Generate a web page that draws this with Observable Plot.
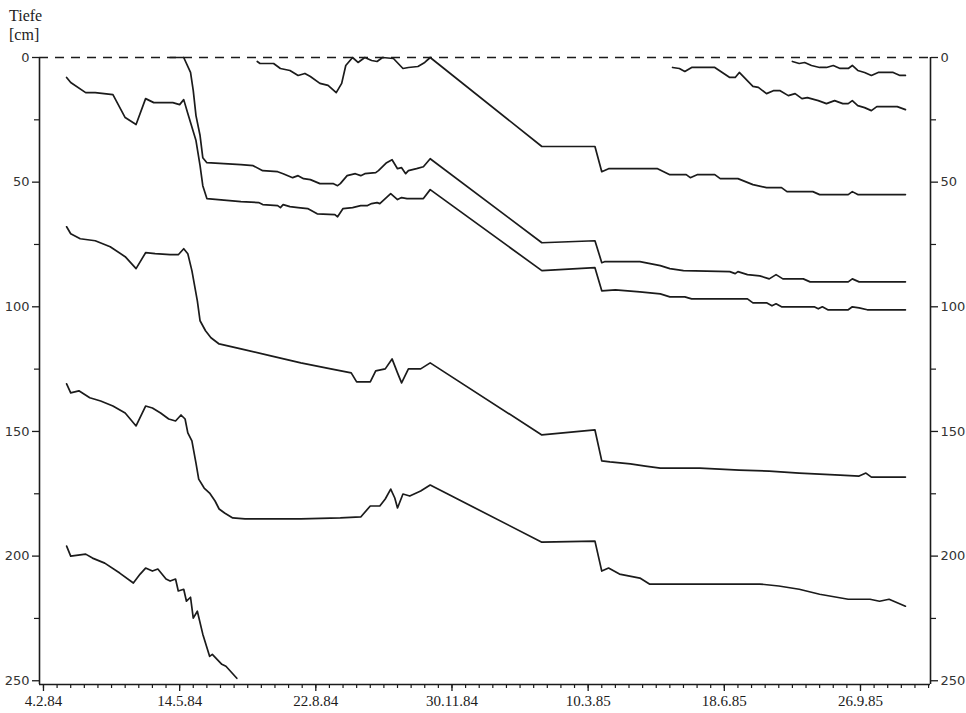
<!DOCTYPE html>
<html><head><meta charset="utf-8">
<script src="https://cdn.jsdelivr.net/npm/d3@7"></script>
<script src="https://cdn.jsdelivr.net/npm/@observablehq/plot@0.6"></script>
<style>
body{margin:0;background:#fff;}
#wrap{position:relative;width:966px;height:713px;color:#222;}
#title{position:absolute;left:9px;top:6px;font-family:"Liberation Serif",serif;font-size:16px;line-height:19px;color:#222;}
</style></head><body>
<div id="wrap"><div id="title">Tiefe<br>[cm]</div></div>
<script>
// tick labels (x: dates, y: depth in cm)
const xTickLabels = ["4.2.84","14.5.84","22.8.84","30.11.84","10.3.85","18.6.85","26.9.85"];
const yTickValues = [0,50,100,150,200,250];
const yMinorValues = [25,75,125,175,225];

// series: [date, depth cm]
const s1 = [["10.7.84",1.6],["12.7.84",2.4],["22.7.84",2.4],["27.7.84",4.4],["3.8.84",5.2],["9.8.84",7.2],["14.8.84",6.4],["18.8.84",7.6],["25.8.84",10.4],["31.8.84",11.2],["6.9.84",14.1],["10.9.84",10.4],["13.9.84",3.2],["18.9.84",0],["22.9.84",2],["27.9.84",0],["2.10.84",1.2],["6.10.84",1.6],["10.10.84",0],["18.10.84",0.4],["25.10.84",4.4],["29.10.84",4],["5.11.84",3.6],["10.11.84",2],["14.11.84",0],["4.2.85",35.7],["15.3.85",35.7],["20.3.85",45.8],["25.3.85",44.6],["30.4.85",44.6],["9.5.85",47],["21.5.85",47],["24.5.85",48.2],["29.5.85",47],["11.6.85",47],["15.6.85",48.6],["28.6.85",48.6],["9.7.85",51],["19.7.85",52.2],["30.7.85",52.2],["3.8.85",53.8],["22.8.85",53.8],["27.8.85",55],["17.9.85",55],["20.9.85",53.8],["24.9.85",55],["29.10.85",55]];
const s2 = [["7.5.84",0],["17.5.84",0],["22.5.84",6],["24.5.84",13.3],["26.5.84",23.3],["29.5.84",31.3],["31.5.84",40.2],["3.6.84",42.2],["28.6.84",43],["7.7.84",43.4],["14.7.84",45.4],["25.7.84",45.8],["29.7.84",46.6],["5.8.84",48.2],["9.8.84",47.4],["13.8.84",48.6],["18.8.84",49],["25.8.84",50.6],["4.9.84",50.6],["7.9.84",51.4],["9.9.84",50.6],["14.9.84",47.4],["20.9.84",46.6],["24.9.84",47.4],["27.9.84",46.6],["5.10.84",46.2],["7.10.84",45.4],["13.10.84",42.2],["17.10.84",41],["21.10.84",44.6],["24.10.84",44.2],["27.10.84",46.6],["29.10.84",45.4],["4.11.84",44.6],["9.11.84",43.8],["14.11.84",40.6],["4.2.85",74.3],["15.3.85",73.5],["20.3.85",82.3],["22.3.85",81.9],["17.4.85",81.9],["2.5.85",83.5],["9.5.85",84.7],["19.5.85",85.5],["22.6.85",85.9],["26.6.85",86.7],["28.6.85",85.9],["5.7.85",87.1],["14.7.85",87.6],["21.7.85",88.8],["26.7.85",87.1],["31.7.85",88.8],["15.8.85",88.8],["20.8.85",90],["17.9.85",90],["20.9.85",88.8],["25.9.85",90],["29.10.85",90]];
const s3 = [["21.2.84",8],["24.2.84",10],["6.3.84",14.1],["13.3.84",14.1],["26.3.84",14.9],["4.4.84",24.1],["12.4.84",26.9],["19.4.84",16.5],["25.4.84",18.1],["9.5.84",18.1],["14.5.84",18.9],["17.5.84",16.9],["20.5.84",22.5],["26.5.84",33.3],["29.5.84",43.4],["31.5.84",51.4],["3.6.84",56.6],["28.6.84",57.8],["11.7.84",58.2],["14.7.84",59],["25.7.84",59.4],["27.7.84",60.2],["29.7.84",59],["3.8.84",59.8],["9.8.84",60.2],["16.8.84",60.6],["23.8.84",62.7],["5.9.84",63],["7.9.84",63.9],["11.9.84",60.6],["18.9.84",60.2],["24.9.84",59.4],["29.9.84",59.4],["2.10.84",58.6],["6.10.84",58.2],["8.10.84",58.6],["16.10.84",54.6],["21.10.84",57],["24.10.84",56.2],["28.10.84",56.6],["9.11.84",56.6],["14.11.84",53],["4.2.85",85.5],["15.3.85",84.3],["20.3.85",93.6],["30.3.85",93.2],["17.4.85",94],["2.5.85",94.8],["9.5.85",96],["20.5.85",96],["25.5.85",96.8],["5.7.85",96.8],["9.7.85",98.4],["19.7.85",98.4],["23.7.85",99.6],["26.7.85",98.8],["30.7.85",100],["23.8.85",100],["26.8.85",100.8],["29.8.85",100],["2.9.85",101.2],["17.9.85",101.2],["20.9.85",100],["25.9.85",100.4],["1.10.85",101.2],["29.10.85",101.2]];
const s4 = [["21.2.84",67.9],["24.2.84",70.7],["2.3.84",72.7],["13.3.84",73.5],["24.3.84",75.9],["4.4.84",79.9],["12.4.84",84.7],["19.4.84",78.3],["26.4.84",78.7],["7.5.84",79.1],["13.5.84",79.1],["17.5.84",76.7],["20.5.84",78.7],["23.5.84",85.5],["27.5.84",97.6],["29.5.84",105.6],["2.6.84",109.6],["6.6.84",112.4],["12.6.84",114.9],["28.6.84",116.9],["20.7.84",119.7],["11.8.84",122.5],["2.9.84",124.9],["17.9.84",126.5],["21.9.84",130.1],["1.10.84",130.1],["5.10.84",125.7],["12.10.84",124.9],["17.10.84",120.9],["21.10.84",126.5],["24.10.84",130.5],["29.10.84",124.9],["7.11.84",124.9],["14.11.84",122.5],["4.2.85",151.4],["15.3.85",149.4],["20.3.85",161.8],["26.3.85",162.2],["10.4.85",163],["21.4.85",163.9],["2.5.85",164.7],["31.5.85",164.7],["29.6.85",165.5],["21.7.85",165.9],["12.8.85",166.7],["11.9.85",167.5],["25.9.85",167.9],["30.9.85",166.7],["4.10.85",168.3],["29.10.85",168.3]];
const s5 = [["21.2.84",130.9],["24.2.84",134.5],["1.3.84",133.7],["9.3.84",136.5],["17.3.84",137.8],["26.3.84",139.8],["4.4.84",142.6],["12.4.84",147.8],["19.4.84",139.8],["24.4.84",140.6],["30.4.84",142.6],["6.5.84",145],["11.5.84",145.8],["15.5.84",143.4],["18.5.84",145],["20.5.84",150.6],["23.5.84",153.8],["26.5.84",162.7],["28.5.84",169.1],["1.6.84",172.7],["5.6.84",174.7],["9.6.84",177.9],["12.6.84",181.1],["16.6.84",182.7],["22.6.84",184.7],["1.7.84",185.1],["11.8.84",185.1],["9.9.84",184.7],["24.9.84",184.3],["1.10.84",179.9],["8.10.84",179.9],["12.10.84",177.1],["16.10.84",173.1],["19.10.84",176.7],["21.10.84",180.7],["25.10.84",175.1],["30.10.84",175.9],["7.11.84",173.9],["14.11.84",171.5],["4.2.85",194.4],["15.3.85",194],["20.3.85",206],["25.3.85",204.8],["2.4.85",207.2],["17.4.85",208.8],["24.4.85",211.2],["31.5.85",211.2],["14.7.85",211.2],["28.7.85",212],["12.8.85",213.3],["27.8.85",215.3],["17.9.85",217.3],["3.10.85",217.3],["10.10.85",218.1],["17.10.85",217.3],["29.10.85",220.1]];
const s6 = [["21.2.84",196],["24.2.84",200],["6.3.84",199.2],["11.3.84",200.8],["20.3.84",202.8],["31.3.84",206.8],["10.4.84",210.8],["15.4.84",207.2],["19.4.84",204.8],["24.4.84",206],["28.4.84",205.2],["4.5.84",209.2],["7.5.84",210],["11.5.84",209.2],["13.5.84",214],["17.5.84",213.3],["19.5.84",218.1],["22.5.84",216.5],["24.5.84",224.9],["27.5.84",222.1],["31.5.84",231.3],["5.6.84",240.2],["7.6.84",239.4],["14.6.84",243.4],["17.6.84",244.2],["25.6.84",249]];
const s7 = [["11.5.85",4],["16.5.85",4.4],["20.5.85",5.6],["25.5.85",4],["11.6.85",4],["22.6.85",8],["26.6.85",8],["29.6.85",6],["9.7.85",11.6],["13.7.85",12],["19.7.85",14.5],["24.7.85",13.3],["29.7.85",13.3],["4.8.85",15.3],["9.8.85",14.5],["14.8.85",16.5],["18.8.85",16.1],["26.8.85",17.3],["1.9.85",18.5],["7.9.85",17.3],["13.9.85",18.5],["17.9.85",18.5],["20.9.85",17.3],["24.9.85",19.3],["29.9.85",20.1],["4.10.85",21.3],["8.10.85",19.7],["23.10.85",19.7],["29.10.85",20.9]];
const s8 = [["7.8.85",1.6],["12.8.85",2.4],["16.8.85",2],["21.8.85",3.2],["27.8.85",4],["1.9.85",4],["6.9.85",3.2],["11.9.85",4.4],["17.9.85",4.4],["20.9.85",3.2],["24.9.85",5.2],["29.9.85",6],["4.10.85",7.2],["9.10.85",6],["20.10.85",6],["25.10.85",7.2],["29.10.85",7.2]];

const parseDate = d3.utcParse("%d.%m.%y");
const seriesList = [["s1",s1],["s2",s2],["s3",s3],["s4",s4],["s5",s5],["s6",s6],["s7",s7],["s8",s8]];
const rows = [];
seriesList.forEach(([name, pts]) => pts.forEach(([d, v]) => rows.push({series: name, date: parseDate(d), depth: v})));

const xTicks = xTickLabels.map(parseDate);
const xStart = new Date("1984-02-01T02:00:00Z");
const xEnd = new Date("1985-11-16T10:00:00Z");
const yMax = 251.5;
const minorX = d3.range(0, 700, 10).map(k => d3.utcDay.offset(xTicks[0], k)).filter(d => d <= xEnd);
const fmt = d3.utcFormat("%-d.%-m.%y");
const ink = "#1b1b1b";
const yFont = "DejaVu Sans";

const chart = Plot.plot({
  width: 966, height: 713,
  marginLeft: 39, marginRight: 36, marginTop: 57, marginBottom: 29,
  style: {background: "#fff", color: ink},
  x: {type: "utc", domain: [xStart, xEnd]},
  y: {domain: [0, yMax], reverse: true},
  marks: [
    Plot.ruleY([0], {stroke: ink, strokeWidth: 1.6, strokeDasharray: "9,7"}),
    Plot.ruleX([xStart, xEnd], {y1: 0, y2: yMax, stroke: ink, strokeWidth: 1.6}),
    Plot.ruleY([yMax], {stroke: ink, strokeWidth: 1.6}),
    Plot.axisX({ticks: xTicks, tickFormat: fmt, tickSize: 7, tickPadding: 4, fontSize: 15, fontFamily: "Liberation Serif", label: null, strokeWidth: 1.3}),
    Plot.axisX({ticks: minorX, tickSize: 4, tickFormat: () => "", label: null, strokeWidth: 1.2}),
    Plot.axisY({anchor: "left", ticks: yTickValues, tickSize: 7, tickPadding: 3, fontSize: 13, fontFamily: yFont, fill: "#333", label: null, strokeWidth: 1.3}),
    Plot.axisY({anchor: "left", ticks: yMinorValues, tickSize: 5, tickFormat: () => "", label: null, strokeWidth: 1.2}),
    Plot.axisY({anchor: "right", ticks: yTickValues, tickSize: 7, tickPadding: 3, fontSize: 13, fontFamily: yFont, fill: "#333", label: null, strokeWidth: 1.3}),
    Plot.axisY({anchor: "right", ticks: yMinorValues, tickSize: 5, tickFormat: () => "", label: null, strokeWidth: 1.2}),
    Plot.line(rows, {x: "date", y: "depth", z: "series", stroke: ink, strokeWidth: 1.7, strokeLinejoin: "round"})
  ]
});
document.getElementById("wrap").appendChild(chart);
</script>
</body></html>
